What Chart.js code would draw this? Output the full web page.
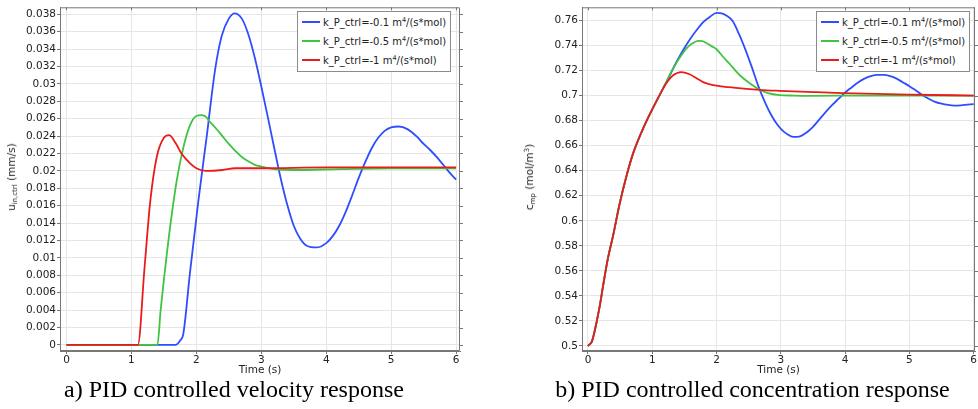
<!DOCTYPE html>
<html>
<head>
<meta charset="utf-8">
<script src="https://cdn.jsdelivr.net/npm/chart.js@4.4.1/dist/chart.umd.min.js"></script>
<style>
  body { margin: 0; width: 978px; height: 409px; background: #fff; position: relative; overflow: hidden; font-family: "DejaVu Sans", sans-serif; color: #222; }
  .wrap { position: absolute; top: 0; }
  .ytitle { position: absolute; white-space: nowrap; font-size: 10.5px; transform: translate(-50%, -50%) rotate(-90deg); }
  .ytitle sub { font-size: 7px; vertical-align: -2px; line-height: 0; }
  .ytitle sup { font-size: 7px; vertical-align: 4px; line-height: 0; }
  .legend { position: absolute; top: 11px; background: #fff; border: 1px solid #8c8c8c; padding: 1px 4px 1px 4px; }
  .legend div { height: 19px; line-height: 19px; font-size: 10px; white-space: nowrap; }
  .legend i { display: inline-block; width: 18px; height: 2px; margin-right: 3px; vertical-align: middle; position: relative; top: -1px; }
  .legend sup { font-size: 6.5px; position: relative; top: -4px; vertical-align: baseline; line-height: 0; }
  .caption { position: absolute; top: 376px; font-family: "Liberation Serif", serif; font-size: 24px; line-height: 27px; text-align: center; color: #000; white-space: nowrap; }
</style>
</head>
<body>
<div class="wrap" style="left:0;width:470px;height:380px"><canvas id="velChart" width="470" height="380"></canvas></div>
<div class="wrap" style="left:480px;width:498px;height:380px"><canvas id="concChart" width="498" height="380"></canvas></div>

<div class="ytitle" style="left:11px;top:177px">u<sub>in,ctrl</sub> (mm/s)</div>
<div class="ytitle" style="left:529px;top:177px">c<sub>mp</sub> (mol/m<sup>3</sup>)</div>

<div class="legend" id="legendA" style="left:297px"></div>
<div class="legend" id="legendB" style="left:816px"></div>

<div class="caption" style="left:0;width:468px">a) PID controlled velocity response</div>
<div class="caption" style="left:505px;width:495px">b) PID controlled concentration response</div>

<script>
// tick labels
const timeTicks = [0, 1, 2, 3, 4, 5, 6];
const velTicks = [0, 0.002, 0.004, 0.006, 0.008, 0.01, 0.012, 0.014, 0.016, 0.018, 0.02,
                  0.022, 0.024, 0.026, 0.028, 0.03, 0.032, 0.034, 0.036, 0.038];
const concTicks = [0.5, 0.52, 0.54, 0.56, 0.58, 0.6, 0.62, 0.64, 0.66, 0.68, 0.7, 0.72, 0.74, 0.76];

const seriesNames = ['k_P_ctrl=-0.1 m<sup>4</sup>/(s*mol)', 'k_P_ctrl=-0.5 m<sup>4</sup>/(s*mol)', 'k_P_ctrl=-1 m<sup>4</sup>/(s*mol)'];
const seriesColors = ['#2f4dff', '#3ec43e', '#ea1b1b'];

// a) velocity
const velTimeBlue = [0, 1.68, 1.75, 1.8, 1.9, 2.03, 2.16, 2.29, 2.39, 2.5, 2.59, 2.7, 2.8, 2.9, 3.0, 3.1, 3.2,
                     3.3, 3.4, 3.5, 3.6, 3.7, 3.85, 4.0, 4.1, 4.2, 4.3, 4.4, 4.5, 4.6, 4.7, 4.8, 4.9, 5.0,
                     5.12, 5.25, 5.4, 5.5, 5.6, 5.7, 5.8, 5.9, 6];
const velBlue = [0, 0, 0.0005, 0.0013, 0.0082, 0.0165, 0.024, 0.0317, 0.0355, 0.0375, 0.0381, 0.0375, 0.0357,
                 0.033, 0.0297, 0.0262, 0.0226, 0.0191, 0.0161, 0.0137, 0.0122, 0.0114, 0.0112, 0.0117, 0.0125,
                 0.0137, 0.0153, 0.0172, 0.0192, 0.021, 0.0226, 0.0238, 0.0246, 0.025, 0.0251, 0.0248, 0.0239,
                 0.0231, 0.0224, 0.0216, 0.0207, 0.0198, 0.019];
const velTimeGreen = [0, 1.4, 1.45, 1.5, 1.6, 1.7, 1.8, 1.9, 2.0, 2.08, 2.15, 2.2, 2.3, 2.4, 2.5, 2.6, 2.7, 2.8,
                      2.9, 3.0, 3.2, 3.5, 4.2, 5, 6];
const velGreen = [0, 0, 0.004, 0.0075, 0.0138, 0.019, 0.0227, 0.0252, 0.0263, 0.0264, 0.0262, 0.0257, 0.0249,
                  0.024, 0.0231, 0.0223, 0.0216, 0.0211, 0.0207, 0.0205, 0.0202, 0.0201, 0.0202, 0.0203, 0.0203];
const velTimeRed = [0, 1.1, 1.2, 1.29, 1.39, 1.5, 1.58, 1.68, 1.77, 1.9, 2.0, 2.15, 2.4, 2.6, 3, 4, 5, 6];
const velRed = [0, 0, 0.0087, 0.0165, 0.0216, 0.0238, 0.0241, 0.0232, 0.022, 0.0209, 0.0203, 0.02, 0.0201,
                0.0203, 0.0203, 0.0204, 0.0204, 0.0204];

// b) concentration
const concTimeBlue = [0, 0.03, 0.06, 0.1, 0.18, 0.24, 0.31, 0.39, 0.49, 0.6, 0.71, 0.86, 0.99, 1.12, 1.22, 1.3,
                      1.4, 1.5, 1.6, 1.7, 1.8, 1.9, 2.0, 2.08, 2.15, 2.25, 2.35, 2.45, 2.55, 2.65, 2.75, 2.85,
                      2.95, 3.05, 3.2, 3.3, 3.4, 3.5, 3.6, 3.7, 3.8, 3.9, 4.0, 4.1, 4.2, 4.3, 4.4, 4.5, 4.6,
                      4.7, 4.8, 4.9, 5.0, 5.1, 5.2, 5.3, 5.4, 5.5, 5.6, 5.7, 5.8, 5.9, 6];
const concBlue = [0.5, 0.5015, 0.5035, 0.511, 0.531, 0.5496, 0.57, 0.588, 0.613, 0.636, 0.655, 0.674, 0.688,
                  0.701, 0.7105, 0.719, 0.729, 0.738, 0.746, 0.753, 0.759, 0.763, 0.766, 0.7657, 0.764, 0.7595,
                  0.749, 0.7365, 0.7225, 0.7075, 0.695, 0.6845, 0.6765, 0.671, 0.667, 0.6675, 0.6705, 0.675,
                  0.681, 0.687, 0.6925, 0.6975, 0.7025, 0.7065, 0.7105, 0.7135, 0.7155, 0.7165, 0.7165, 0.7155,
                  0.7135, 0.7105, 0.7075, 0.704, 0.7005, 0.6975, 0.695, 0.6935, 0.6925, 0.692, 0.6922, 0.6927,
                  0.6932];
const concTimeGreen = [0, 0.03, 0.06, 0.1, 0.18, 0.24, 0.31, 0.39, 0.49, 0.6, 0.71, 0.86, 0.99, 1.12, 1.22, 1.3,
                       1.38, 1.45, 1.53, 1.62, 1.71, 1.78, 1.84, 1.92, 2.0, 2.1, 2.21, 2.31, 2.41, 2.54, 2.67,
                       2.8, 2.98, 3.2, 3.45, 4.3, 6];
const concGreen = [0.5, 0.5015, 0.5035, 0.511, 0.531, 0.5496, 0.57, 0.588, 0.613, 0.636, 0.655, 0.674, 0.688,
                   0.701, 0.7112, 0.7195, 0.7265, 0.732, 0.7375, 0.7415, 0.7437, 0.7435, 0.742, 0.7395, 0.737,
                   0.731, 0.725, 0.719, 0.714, 0.709, 0.7046, 0.702, 0.7004, 0.7, 0.6998, 0.7, 0.7];
const concTimeRed = [0, 0.03, 0.06, 0.1, 0.18, 0.24, 0.31, 0.39, 0.49, 0.6, 0.71, 0.86, 0.99, 1.12, 1.22, 1.32,
                     1.45, 1.58, 1.7, 1.8, 1.9, 2.0, 2.26, 2.67, 2.98, 3.5, 3.97, 5, 6];
const concRed = [0.5, 0.5015, 0.5035, 0.511, 0.531, 0.5496, 0.57, 0.588, 0.613, 0.636, 0.655, 0.674, 0.688,
                 0.701, 0.71, 0.716, 0.7188, 0.717, 0.7135, 0.7105, 0.709, 0.708, 0.7064, 0.7046, 0.7038,
                 0.7028, 0.702, 0.7008, 0.7];

const toPoints = (ts, vs) => ts.map((t, i) => ({ x: t, y: vs[i] }));

// outer box + mirror ticks on top/right
const framePlugin = {
    id: 'frame',
    afterDraw(chart) {
        const { ctx, chartArea: a, scales } = chart;
        ctx.save();
        ctx.strokeStyle = '#777';
        ctx.lineWidth = 1;
        ctx.beginPath();
        ctx.rect(a.left + 0.5, a.top + 0.5, a.right - a.left - 1, a.bottom - a.top - 1);
        scales.x.ticks.forEach(t => {
            const px = Math.round(scales.x.getPixelForValue(t.value)) + 0.5;
            ctx.moveTo(px, a.top);
            ctx.lineTo(px, a.top + 3);
        });
        scales.y.ticks.forEach(t => {
            const py = Math.round(scales.y.getPixelForValue(t.value)) + 0.5;
            ctx.moveTo(a.right, py);
            ctx.lineTo(a.right + 3, py);
        });
        ctx.stroke();
        ctx.restore();
    }
};

function makeChart(id, series, yTicks, xRange, yRange, yWidth, padRight) {
    const datasets = series.map((s, i) => ({
        label: seriesNames[i].replace(/<[^>]+>/g, ''),
        data: toPoints(s[0], s[1]),
        borderColor: seriesColors[i],
        borderWidth: 1.8,
        pointRadius: 0,
        cubicInterpolationMode: 'monotone',
        order: 2 - i
    }));
    const tickFont = { family: 'DejaVu Sans', size: 10.5 };
    return new Chart(document.getElementById(id), {
        type: 'line',
        data: { datasets },
        plugins: [framePlugin],
        options: {
            responsive: false,
            devicePixelRatio: 1,
            animation: false,
            layout: { padding: { top: 4, right: padRight, left: 0, bottom: 0 } },
            plugins: { legend: { display: false }, tooltip: { enabled: false } },
            scales: {
                x: {
                    type: 'linear', min: xRange[0], max: xRange[1],
                    afterBuildTicks: s => { s.ticks = timeTicks.map(v => ({ value: v })); },
                    afterFit: s => { s.height = 29; },
                    ticks: { font: tickFont, color: '#222', padding: 0, maxRotation: 0 },
                    grid: { color: '#e6e6e6', tickColor: '#777', tickLength: 3 },
                    border: { color: '#777' },
                    title: { display: true, text: 'Time (s)', font: tickFont, color: '#222', padding: { top: 0, bottom: 3 } }
                },
                y: {
                    min: yRange[0], max: yRange[1],
                    afterBuildTicks: s => { s.ticks = yTicks.map(v => ({ value: v })); },
                    afterFit: s => { s.width = yWidth; },
                    ticks: { font: tickFont, color: '#222', padding: 1, callback: v => String(+v.toFixed(3)) },
                    grid: { color: '#e6e6e6', tickColor: '#777', tickLength: 3 },
                    border: { color: '#777' }
                }
            }
        }
    });
}

function fillLegend(id) {
    const box = document.getElementById(id);
    seriesNames.forEach((name, i) => {
        box.innerHTML += `<div><i style="background:${seriesColors[i]}"></i>${name}</div>`;
    });
}

makeChart('velChart',
    [[velTimeBlue, velBlue], [velTimeGreen, velGreen], [velTimeRed, velRed]],
    velTicks, [-0.1, 6.06], [-0.0007, 0.0388], 60, 10);
makeChart('concChart',
    [[concTimeBlue, concBlue], [concTimeGreen, concGreen], [concTimeRed, concRed]],
    concTicks, [-0.093, 6.02], [0.496, 0.7705], 102, 3);
fillLegend('legendA');
fillLegend('legendB');
</script>
</body>
</html>
